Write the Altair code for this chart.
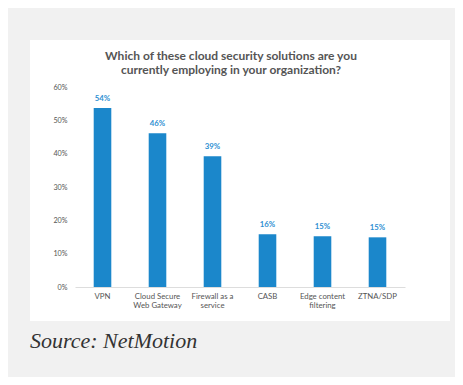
import altair as alt
import pandas as pd

categories = ["VPN", "Cloud Secure\nWeb Gateway", "Firewall as a\nservice", "CASB",
              "Edge content\nfiltering", "ZTNA/SDP"]
values = [53.7, 46.1, 39.2, 15.8, 15.2, 14.9]
value_labels = ["54%", "46%", "39%", "16%", "15%", "15%"]
y_ticks = [0, 10, 20, 30, 40, 50, 60]
title_lines = ["Which of these cloud security solutions are you",
               "currently employing in your organization?"]
source_text = "Source: NetMotion"

df = pd.DataFrame({"cat": categories, "val": values, "lab": value_labels})

FONT = "Lato"
BAR = "#1b87cb"

x_enc = alt.X("cat:N", sort=categories, title=None,
              scale=alt.Scale(paddingInner=0.68, paddingOuter=0.34),
              axis=alt.Axis(labelAngle=0, labelExpr="split(datum.label, '\\n')",
                            labelFont=FONT, labelFontSize=7.8, labelColor="#555555",
                            labelPadding=5, ticks=False, domainColor="#dddddd",
                            labelLineHeight=9.5, labelFontWeight="normal", zindex=1))
y_enc = alt.Y("val:Q", title=None,
              scale=alt.Scale(domain=[0, 60], nice=False),
              axis=alt.Axis(values=y_ticks, labelExpr="datum.value + '%'",
                            grid=False, domain=False, ticks=False, labelOverlap=False,
                            labelFont=FONT, labelFontSize=7.2, labelColor="#555555",
                            labelPadding=8, zindex=1))

panel = alt.Chart(pd.DataFrame({"a": [0]})).mark_rect(fill="white").encode(
    x=alt.value(-45), x2=alt.value(375), y=alt.value(-47), y2=alt.value(234))

bars = alt.Chart(df).mark_bar(color=BAR).encode(x=x_enc, y=y_enc)

labels = alt.Chart(df).mark_text(
    dy=-5, baseline="bottom", font=FONT, fontSize=7.8, fontWeight="bold",
    color="#2e8fd2").encode(x=x_enc, y=y_enc, text="lab:N")

source = alt.Chart(pd.DataFrame({"t": [source_text]})).mark_text(
    align="left", baseline="alphabetic", font="Liberation Serif", fontStyle="italic",
    fontSize=22, color="#333333").encode(
    x=alt.value(-45), y=alt.value(261), text="t:N")

chart = alt.layer(panel, bars, labels, source).properties(
    width=330, height=200,
    title=alt.TitleParams(title_lines, anchor="middle", dx=-9, offset=-37, frame="group",
                          font=FONT, fontSize=12, fontWeight="bold",
                          color="#555555", lineHeight=14),
    background="#f1f1f1",
    padding={"left": 67, "top": 79, "right": 50, "bottom": 90},
    autosize=alt.AutoSizeParams(type="none"),
).configure_view(stroke=None)

chart.save("out.html", embed_options={"renderer": "svg", "actions": False})
